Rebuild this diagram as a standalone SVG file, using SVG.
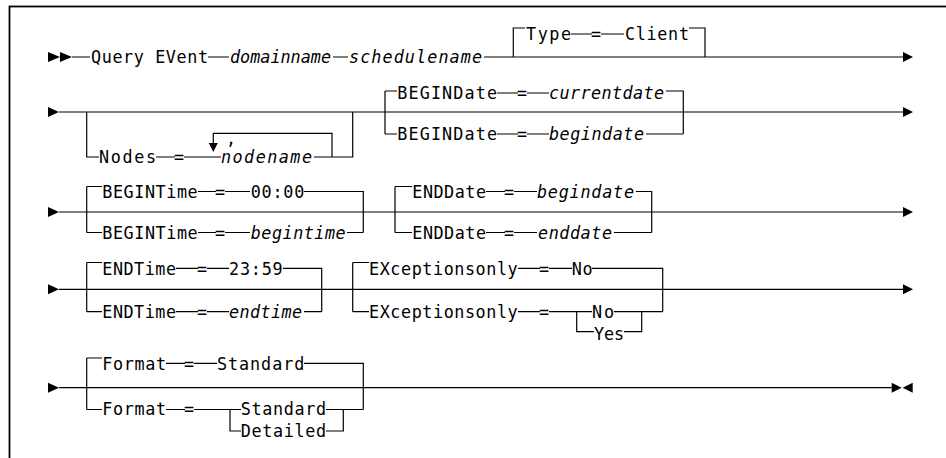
<svg xmlns="http://www.w3.org/2000/svg" width="946" height="458" viewBox="0 0 946 458">
<style>
.t{font-family:"DejaVu Sans Mono","Liberation Mono",monospace;font-size:16.8px;fill:#000}
.i{font-style:italic}
.ln{fill:none;stroke:#000;stroke-width:1.2}
.ah{fill:#000;stroke:none}
.fr{fill:none;stroke:#000;stroke-width:1.8}
</style>
<rect class="fr" x="9.5" y="6.5" width="1000" height="500"/>
<g id="connectors">
  <!-- row 1 -->
  <path class="ln" d="M72,57 H90 M208,57 H229 M333,57 H348 M484,57 H903"/>
  <path class="ln" d="M513.3,57 V28 H525 M571,34 H592 M601,34 H624 M689,28 H705 V57"/>
  <path class="ah" d="M48,52 L60,57 L48,62Z M60,52 L72,57 L60,62Z M903,52 L913,57 L903,62Z"/>
  <!-- row 2 -->
  <path class="ln" d="M59,112 H903"/>
  <path class="ln" d="M86.7,112 V157 H99 M156,157 H175 M184,157 H221 M314,157 H352.7 V112 M332,157 V133.3 H213.3 V143"/>
  <path class="ln" d="M385,91 V134 M385,91 H397 M497,93 H518 M527,93 H549 M666,91 H683.3 V134 M385,134 H397 M497,134 H518 M527,134 H549 M646,134 H683.3"/>
  <path class="ah" d="M48,107 L59,112 L48,117Z M903,107 L913,112 L903,117Z M208.8,143 L217.8,143 L213.3,152Z"/>
  <!-- row 3 -->
  <path class="ln" d="M59,212 H903"/>
  <path class="ln" d="M86.7,186.5 V232.5 M86.7,186.5 H102 M198,191.5 H216 M225,191.5 H250 M304,191.5 H363.3 V232.5 M86.7,232.5 H102 M198,232.5 H216 M225,232.5 H250 M347,232.5 H363.3"/>
  <path class="ln" d="M395,186.5 V232.5 M395,186.5 H412 M486,191.5 H505 M514,191.5 H537 M636,191.5 H651.7 V232.5 M395,232.5 H412 M486,232.5 H505 M514,232.5 H537 M614,232.5 H651.7"/>
  <path class="ah" d="M48,207 L59,212 L48,217Z M903,207 L913,212 L903,217Z"/>
  <!-- row 4 -->
  <path class="ln" d="M59,289.3 H903"/>
  <path class="ln" d="M86.7,262.5 V311.7 M86.7,262.5 H102 M176,268.3 H198 M207,268.3 H229 M283,268.3 H321.7 V311.7 M86.7,311.7 H102 M176,311.7 H198 M207,311.7 H229 M304,311.7 H321.7"/>
  <path class="ln" d="M352.7,262.5 V311.7 M352.7,262.5 H369 M518,268.3 H540 M549,268.3 H572 M592,268.3 H662.7 V311.7 M352.7,311.7 H369 M518,311.7 H540 M549,311.7 H592 M576.7,311.7 V331.7 H594 M614,311.7 H662.7 M641.7,311.7 V331.7 H624"/>
  <path class="ah" d="M48,284.3 L59,289.3 L48,294.3Z M903,284.3 L913,289.3 L903,294.3Z"/>
  <!-- row 5 -->
  <path class="ln" d="M59,387.7 H891.7"/>
  <path class="ln" d="M86.7,358 V409.5 M86.7,358 H102 M166,363.3 H185 M194,363.3 H217 M304,363.3 H363.3 V409.5 M86.7,409.5 H102 M166,409.5 H185 M194,409.5 H241 M230,409.5 V431 H241 M326,409.5 H363.3 M343.3,409.5 V431 H326"/>
  <path class="ah" d="M48,382.7 L59,387.7 L48,392.7Z M891.7,382.7 L901.7,387.7 L891.7,392.7Z M912.7,382.7 L902.7,387.7 L912.7,392.7Z"/>
</g>
<g id="cmd">
  <text class="t" x="91" y="63.2" textLength="117" lengthAdjust="spacing">Query EVent</text>
  <text class="t i" x="230" y="63.2" textLength="101" lengthAdjust="spacing">domainname</text>
  <text class="t i" x="349" y="63.2" textLength="133" lengthAdjust="spacing">schedulename</text>
</g>
<g id="type">
  <text class="t" x="526" y="40.2" textLength="45" lengthAdjust="spacing">Type</text>
  <text class="t" x="591" y="40.2">=</text>
  <text class="t" x="625" y="40.2" textLength="64" lengthAdjust="spacing">Client</text>
</g>
<g id="nodes">
  <text class="t" x="99" y="163.2" textLength="57" lengthAdjust="spacing">Nodes</text>
  <text class="t" x="174" y="163.2">=</text>
  <text class="t" x="226" y="144.5">,</text>
  <text class="t i" x="221" y="163.2" textLength="91" lengthAdjust="spacing">nodename</text>
</g>
<g id="begindate">
  <text class="t" x="397.3" y="99.3" textLength="99.7" lengthAdjust="spacing">BEGINDate</text>
  <text class="t" x="517" y="99.3">=</text>
  <text class="t i" x="549" y="99.3" textLength="115" lengthAdjust="spacing">currentdate</text>
  <text class="t" x="397.3" y="140.3" textLength="99.7" lengthAdjust="spacing">BEGINDate</text>
  <text class="t" x="517" y="140.3">=</text>
  <text class="t i" x="549" y="140.3" textLength="95" lengthAdjust="spacing">begindate</text>
</g>
<g id="begintime">
  <text class="t" x="102.3" y="197.8" textLength="95.4" lengthAdjust="spacing">BEGINTime</text>
  <text class="t" x="215" y="197.8">=</text>
  <text class="t" x="250.7" y="197.8" textLength="53.6" lengthAdjust="spacing">00:00</text>
  <text class="t" x="102.3" y="238.8" textLength="95.4" lengthAdjust="spacing">BEGINTime</text>
  <text class="t" x="215" y="238.8">=</text>
  <text class="t i" x="250.7" y="238.8" textLength="95" lengthAdjust="spacing">begintime</text>
</g>
<g id="enddate">
  <text class="t" x="412.3" y="197.8" textLength="73.7" lengthAdjust="spacing">ENDDate</text>
  <text class="t" x="504" y="197.8">=</text>
  <text class="t i" x="537" y="197.8" textLength="97" lengthAdjust="spacing">begindate</text>
  <text class="t" x="412.3" y="238.8" textLength="73.7" lengthAdjust="spacing">ENDDate</text>
  <text class="t" x="504" y="238.8">=</text>
  <text class="t i" x="538" y="238.8" textLength="74" lengthAdjust="spacing">enddate</text>
</g>
<g id="endtime">
  <text class="t" x="102.3" y="274.5" textLength="73.7" lengthAdjust="spacing">ENDTime</text>
  <text class="t" x="197" y="274.5">=</text>
  <text class="t" x="229" y="274.5" textLength="53.7" lengthAdjust="spacing">23:59</text>
  <text class="t" x="102.3" y="317.8" textLength="73.7" lengthAdjust="spacing">ENDTime</text>
  <text class="t" x="197" y="317.8">=</text>
  <text class="t i" x="229" y="317.8" textLength="73" lengthAdjust="spacing">endtime</text>
</g>
<g id="exceptionsonly">
  <text class="t" x="369" y="274.5" textLength="148.7" lengthAdjust="spacing">EXceptionsonly</text>
  <text class="t" x="539" y="274.5">=</text>
  <text class="t" x="571.7" y="274.5" textLength="21" lengthAdjust="spacing">No</text>
  <text class="t" x="369" y="317.8" textLength="148.7" lengthAdjust="spacing">EXceptionsonly</text>
  <text class="t" x="539" y="317.8">=</text>
  <text class="t" x="592" y="317.8" textLength="22" lengthAdjust="spacing">No</text>
  <text class="t" x="594" y="339.8" textLength="30" lengthAdjust="spacing">Yes</text>
</g>
<g id="format">
  <text class="t" x="102.3" y="369.8" textLength="63.7" lengthAdjust="spacing">Format</text>
  <text class="t" x="184" y="369.8">=</text>
  <text class="t" x="217" y="369.8" textLength="87.3" lengthAdjust="spacing">Standard</text>
  <text class="t" x="102.3" y="415.3" textLength="63.7" lengthAdjust="spacing">Format</text>
  <text class="t" x="184" y="415.3">=</text>
  <text class="t" x="240.7" y="415.3" textLength="85.3" lengthAdjust="spacing">Standard</text>
  <text class="t" x="240.7" y="436.8" textLength="85.3" lengthAdjust="spacing">Detailed</text>
</g>
</svg>
